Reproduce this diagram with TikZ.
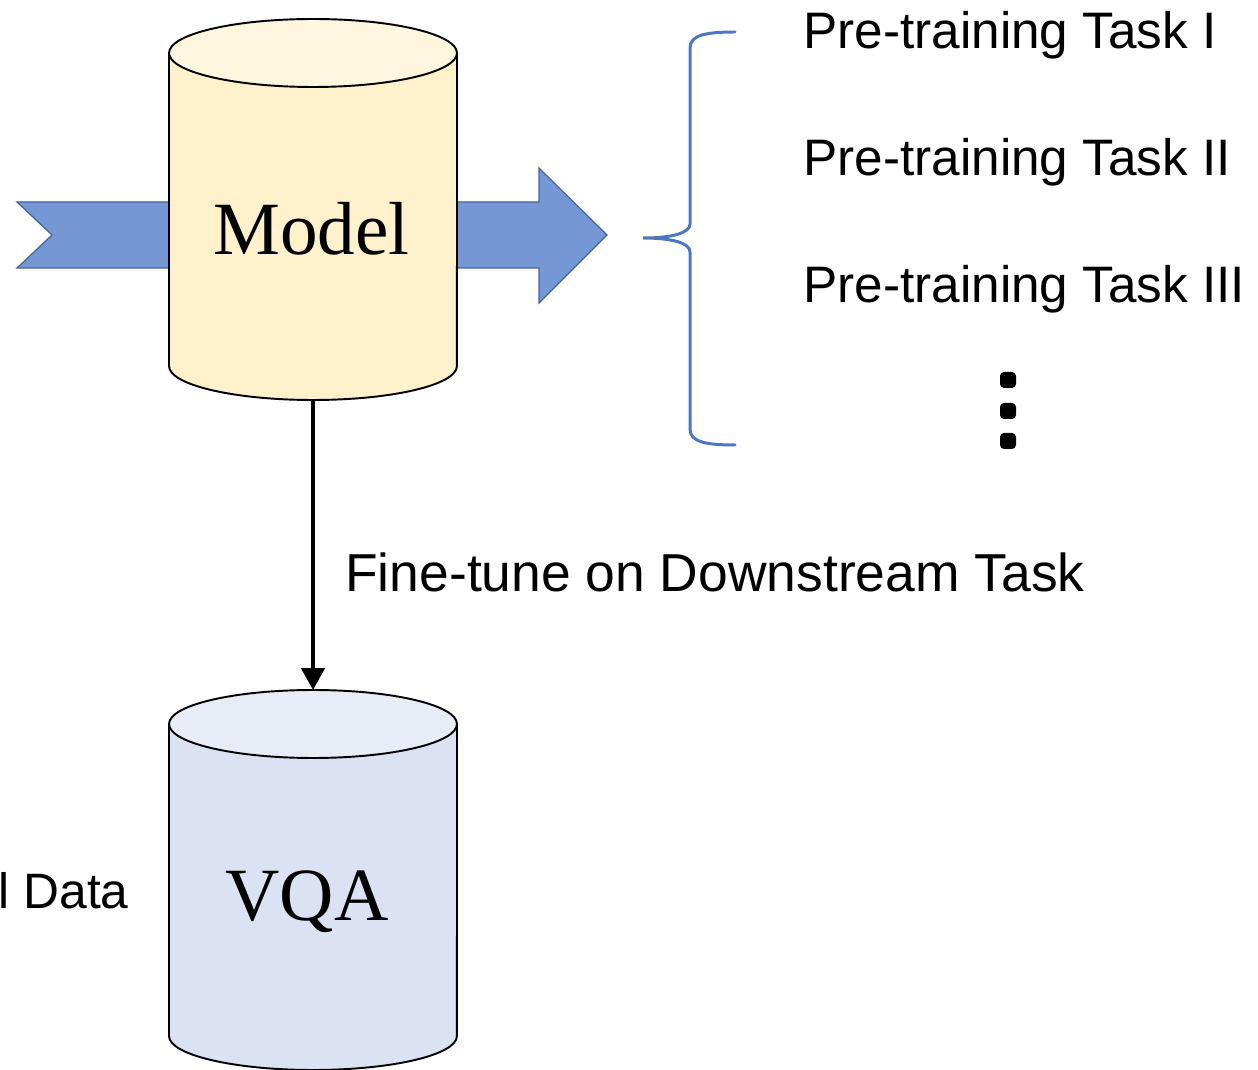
\documentclass[tikz,border=0pt]{standalone}
\usepackage{fontspec}
\setmainfont{Liberation Serif}
\newfontfamily\labelfont{Liberation Sans}
\usetikzlibrary{arrows.meta}

\definecolor{flowfill}{HTML}{7598D4}
\definecolor{flowline}{HTML}{44649F}
\definecolor{modelbody}{HTML}{FFF1CC}
\definecolor{modeltop}{HTML}{FFF6E0}
\definecolor{vqabody}{HTML}{DAE2F3}
\definecolor{vqatop}{HTML}{E7ECF7}
\definecolor{bracecol}{HTML}{4E76C0}

% draws a vertical drum: #1 left x, #2 right x, #3 top rim y, #4 bottom rim y, #5 body colour, #6 lid colour
\newcommand{\drawdrum}[6]{%
  \fill[#5] (#1,#3) -- (#1,#4) arc[start angle=180,end angle=360,x radius=2.88cm,y radius=0.68cm] -- (#2,#3) -- cycle;
  \draw[drumline] (#1,#3) -- (#1,#4) arc[start angle=180,end angle=360,x radius=2.88cm,y radius=0.68cm] -- (#2,#3);
  \filldraw[drumline,fill=#6] ({(#1+#2)/2},#3) ellipse[x radius=2.88cm,y radius=0.68cm];
}

\tikzset{
  drumline/.style={draw=black,line width=1.1pt},
  flowshape/.style={fill=flowfill,draw=flowline,line width=0.7pt,line join=miter},
  holder/.style={inner sep=0pt,outer sep=0pt,minimum width=5.76cm},
  bigword/.style={font=\fontsize{42.8pt}{48pt}\selectfont,inner sep=0pt,anchor=base},
  tasktext/.style={font=\labelfont\fontsize{29.2pt}{34pt}\selectfont,inner sep=0pt,anchor=base west},
  fttext/.style={font=\labelfont\fontsize{30.4pt}{36pt}\selectfont,inner sep=0pt,anchor=base west},
  datatext/.style={font=\labelfont\fontsize{28.3pt}{34pt}\selectfont,inner sep=0pt,anchor=base east},
  dotmark/.style={fill=black,rounded corners=0.08cm},
  flow/.style={line width=2.6pt,-{Triangle[length=0.44cm,width=0.46cm]}}
}

\begin{document}
\begin{tikzpicture}[x=0.02cm,y=-0.02cm]
  \useasboundingbox (0,0) rectangle (1258,1070);

  % blue input and output arrows (behind the model drum)
  \path[flowshape] (17,202) -- (200,202) -- (200,268) -- (17,268) -- (52,235) -- cycle;
  \path[flowshape] (430,202) -- (539,202) -- (539,168) -- (607,235) -- (539,303) -- (539,268) -- (430,268) -- cycle;

  % the two drums
  \drawdrum{169}{457}{53}{366}{modelbody}{modeltop}
  \drawdrum{169}{457}{724}{1036}{vqabody}{vqatop}

  % anchors for the drums
  \node[holder,minimum height=7.64cm] (model) at (313,208) {};
  \node[holder,minimum height=7.56cm] (vqa) at (313,879) {};

  \node[bigword] (modelname) at (311.5,255) {Model};
  \node[bigword] (vqaname) at (307,920) {VQA};

  % fine-tuning connector
  \draw[flow] (model.south) -- (vqa.north);
  \node[fttext] (finetune) at (345,592) {Fine-tune on Downstream Task};

  % brace grouping the pre-training tasks
  \draw[bracecol,line width=1.7pt,line cap=round]
    (735,32) .. controls (706,32) and (690,35) .. (690,48) -- (690,224)
    .. controls (690,233) and (672,238) .. (643,238)
    .. controls (672,238) and (690,243) .. (690,252) -- (690,429)
    .. controls (690,442) and (706,445) .. (735,445);

  \node[tasktext] (task1) at (803,49) {Pre-training Task I};
  \node[tasktext] (task2) at (803,176) {Pre-training Task II};
  \node[tasktext] (task3) at (803,303) {Pre-training Task III};

  % vertical ellipsis
  \foreach \yy in {380,411,441}
    \fill[dotmark] (1000,\yy-8) rectangle (1016,\yy+8);

  \node[datatext] (data) at (129,908) {l Data};
\end{tikzpicture}
\end{document}
